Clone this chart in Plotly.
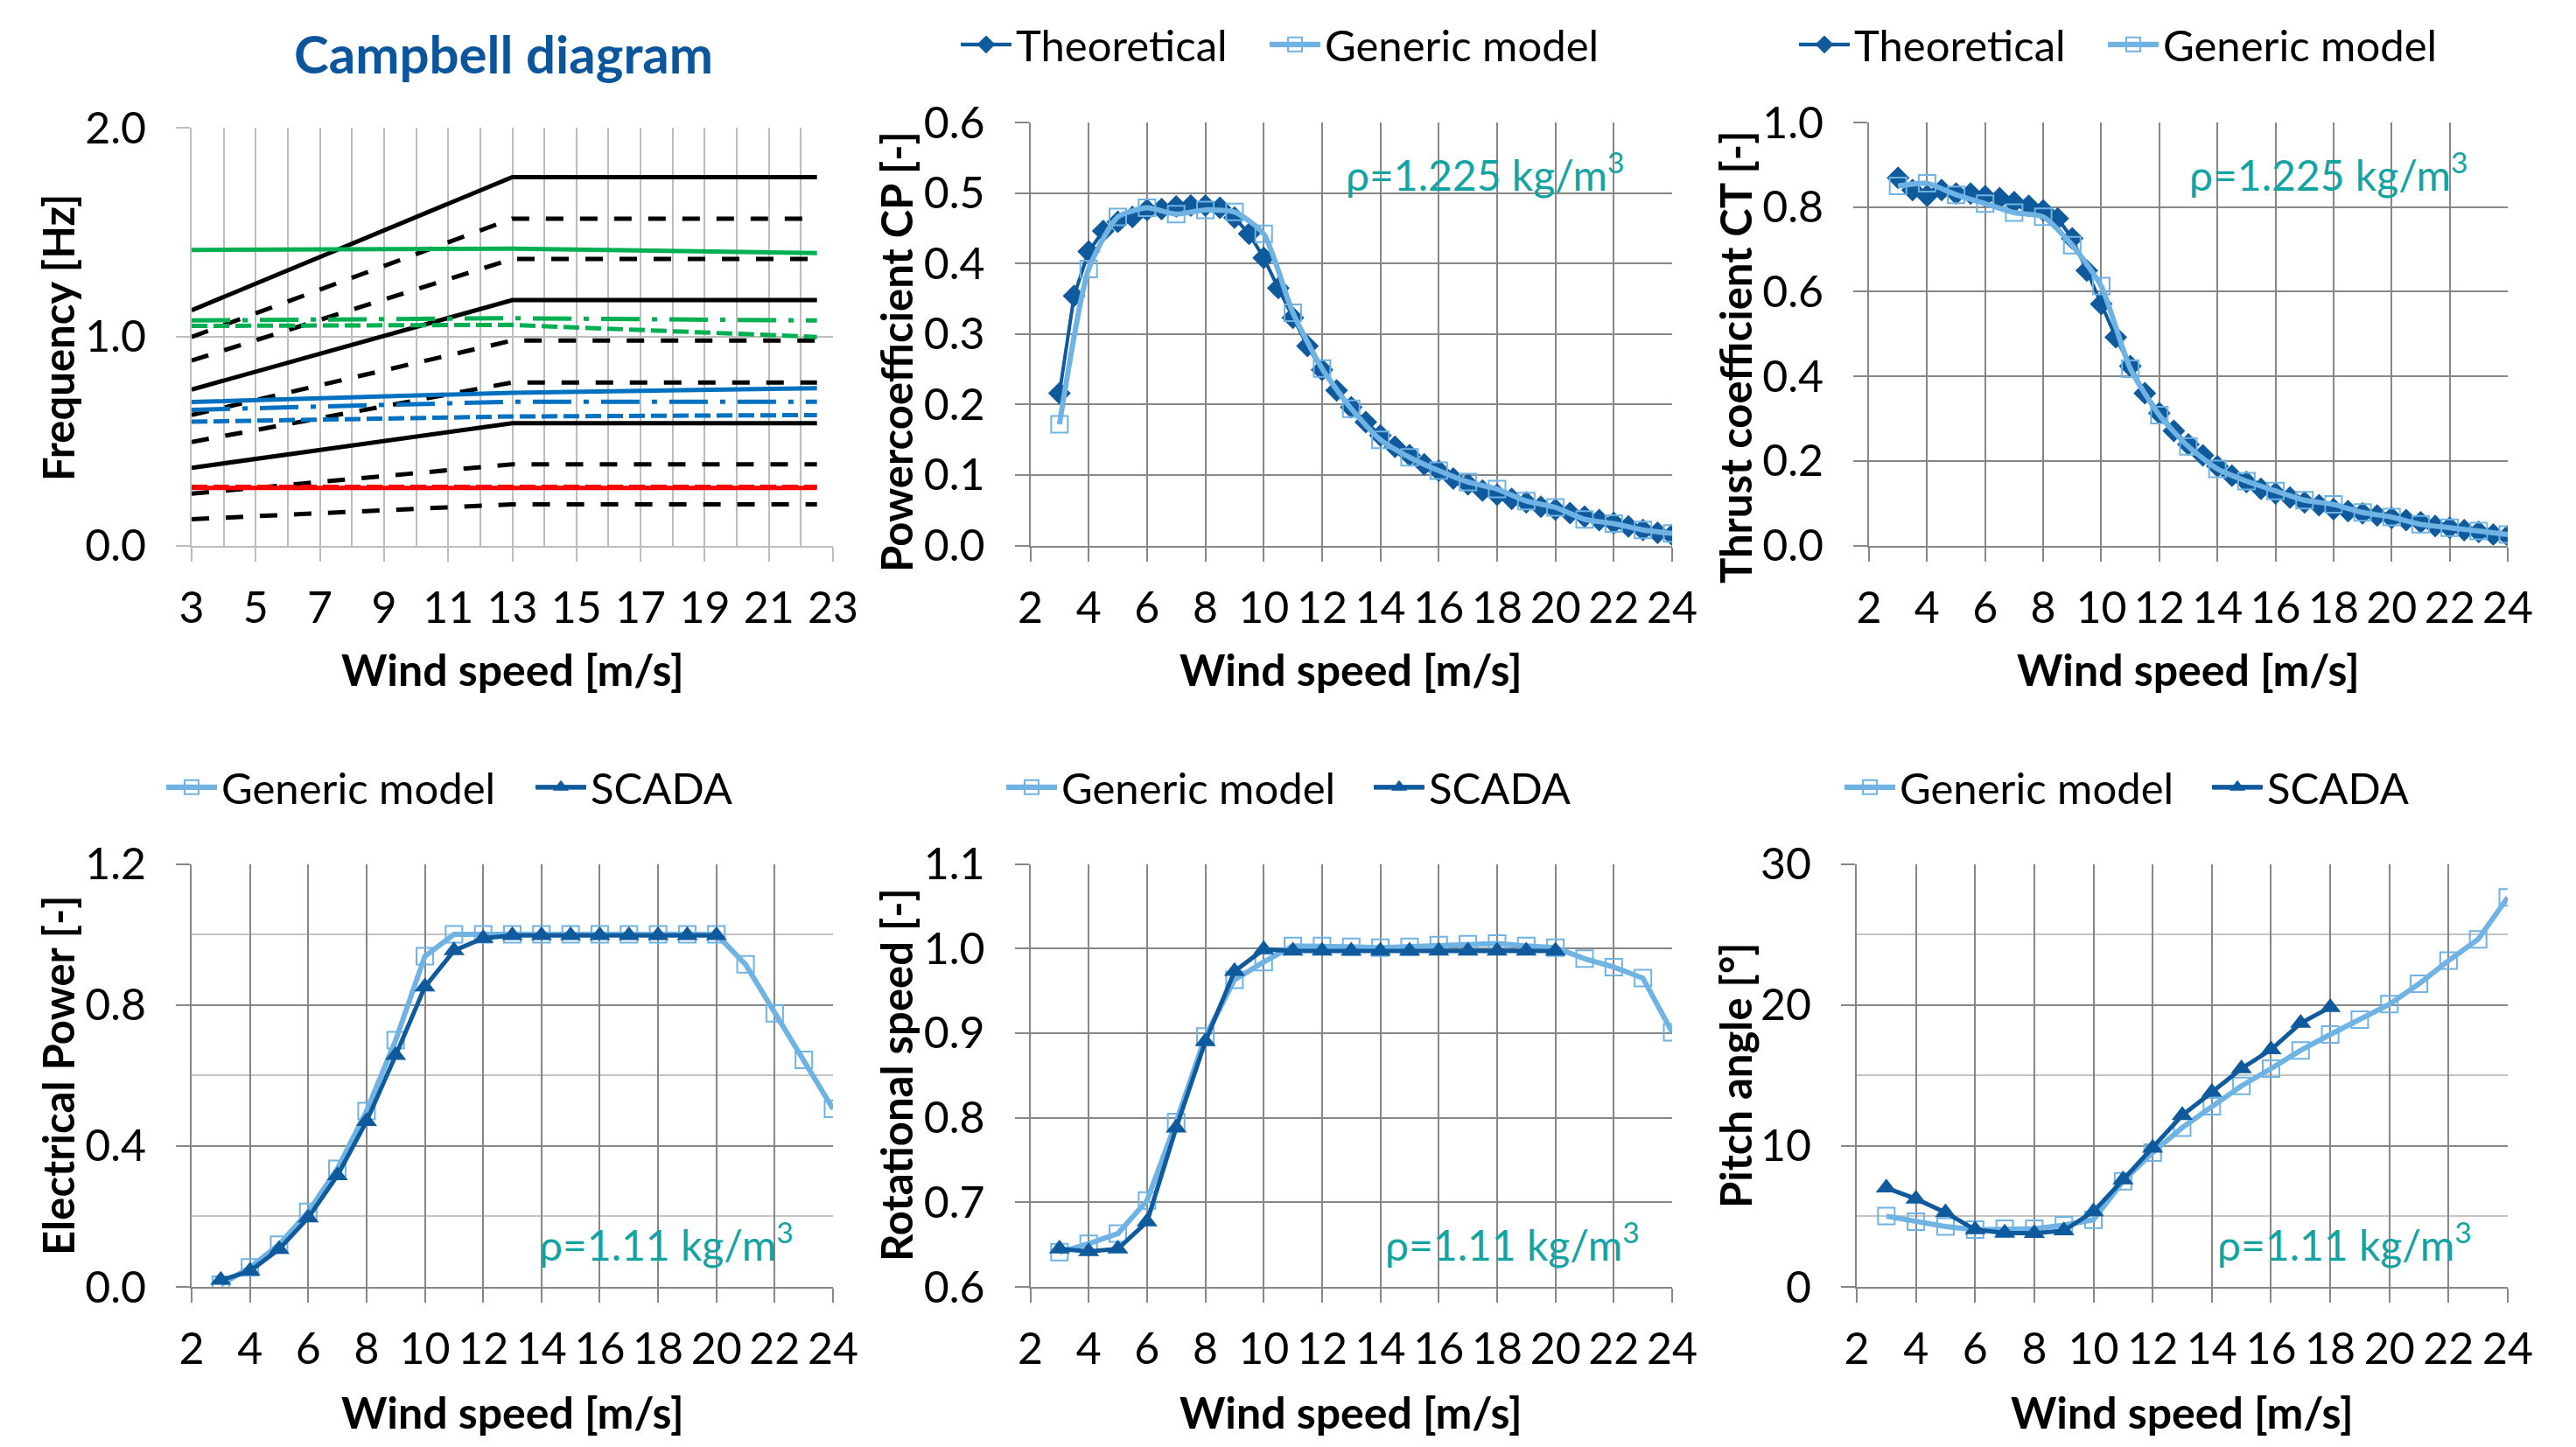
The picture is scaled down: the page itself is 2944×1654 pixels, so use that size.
import plotly.graph_objects as go

W, H = 2944, 1654

# ---------------- data ----------------
campbell_wind = [3, 13, 22.5]
harm_1p = [0.126, 0.197, 0.197]
harm_2p = [0.248, 0.389, 0.389]
harm_3p = [0.372, 0.586, 0.586]
harm_4p = [0.496, 0.781, 0.781]
harm_5p = [0.625, 0.982, 0.982]
harm_6p = [0.747, 1.176, 1.176]
harm_7p = [0.886, 1.373, 1.373]
harm_8p = [0.999, 1.566, 1.566]
harm_9p = [1.127, 1.765, 1.765]
green_solid = [1.416, 1.422, 1.401]
green_dashdot = [1.078, 1.089, 1.078]
green_dash = [1.052, 1.057, 0.999]
blue_solid = [0.687, 0.732, 0.753]
blue_dashdot = [0.650, 0.689, 0.689]
blue_dash = [0.593, 0.618, 0.625]
red_solid = [0.276, 0.276, 0.276]
red_dash = [0.281, 0.281, 0.281]

wind_half = [3, 3.5, 4, 4.5, 5, 5.5, 6, 6.5, 7, 7.5, 8, 8.5, 9, 9.5, 10, 10.5,
             11, 11.5, 12, 12.5, 13, 13.5, 14, 14.5, 15, 15.5, 16, 16.5, 17, 17.5,
             18, 18.5, 19, 19.5, 20, 20.5, 21, 21.5, 22, 22.5, 23, 23.5, 24]
cp_theoretical = [0.216, 0.354, 0.417, 0.446, 0.459, 0.466, 0.476, 0.477, 0.481, 0.482,
                  0.482, 0.479, 0.465, 0.442, 0.408, 0.365, 0.323, 0.283, 0.249, 0.220,
                  0.196, 0.175, 0.156, 0.140, 0.128, 0.115, 0.106, 0.095, 0.087, 0.078,
                  0.072, 0.066, 0.061, 0.055, 0.051, 0.046, 0.041, 0.036, 0.032, 0.027,
                  0.022, 0.018, 0.015]
ct_theoretical = [0.869, 0.840, 0.827, 0.840, 0.832, 0.832, 0.826, 0.821, 0.812, 0.803,
                  0.792, 0.773, 0.726, 0.650, 0.571, 0.492, 0.424, 0.360, 0.313, 0.271,
                  0.239, 0.213, 0.187, 0.165, 0.150, 0.134, 0.123, 0.113, 0.102, 0.095,
                  0.086, 0.081, 0.076, 0.071, 0.065, 0.060, 0.055, 0.046, 0.042, 0.036,
                  0.032, 0.026, 0.023]

wind_generic = [3, 4, 5, 6, 7, 8, 9, 10, 11, 12, 13, 14, 15, 16, 17, 18, 19, 20, 21, 22, 23, 24]
cp_generic = [0.172, 0.392, 0.466, 0.479, 0.470, 0.476, 0.473, 0.442, 0.330, 0.251, 0.194,
              0.150, 0.125, 0.106, 0.090, 0.080, 0.063, 0.054, 0.037, 0.031, 0.022, 0.017]
ct_generic = [0.850, 0.856, 0.829, 0.808, 0.787, 0.777, 0.710, 0.613, 0.418, 0.308, 0.234,
              0.181, 0.152, 0.129, 0.107, 0.097, 0.078, 0.067, 0.050, 0.042, 0.034, 0.026]
power_generic = [0.006, 0.055, 0.120, 0.213, 0.335, 0.499, 0.700, 0.938, 1.000, 1.000, 1.000,
                 1.000, 1.000, 1.000, 1.000, 1.000, 1.000, 1.000, 0.915, 0.776, 0.644, 0.505]
rotspeed_generic = [0.641, 0.651, 0.663, 0.702, 0.795, 0.896, 0.963, 0.984, 1.003, 1.003, 1.002,
                    1.001, 1.002, 1.004, 1.005, 1.006, 1.003, 1.001, 0.988, 0.978, 0.965, 0.901]
pitch_generic = [5.02, 4.63, 4.28, 4.06, 4.12, 4.12, 4.38, 4.76, 7.50, 9.53, 11.30,
                 12.81, 14.26, 15.48, 16.77, 17.90, 18.96, 20.05, 21.50, 23.14, 24.65, 27.62]

wind_scada = [3, 4, 5, 6, 7, 8, 9, 10, 11, 12, 13, 14, 15, 16, 17, 18, 19, 20]
power_scada = [0.019, 0.045, 0.107, 0.196, 0.316, 0.470, 0.657, 0.851, 0.954, 0.989,
               0.997, 0.997, 0.997, 0.997, 0.997, 0.997, 0.997, 0.997]
rotspeed_scada = [0.645, 0.642, 0.645, 0.677, 0.788, 0.890, 0.973, 0.999, 0.997, 0.997,
                  0.997, 0.997, 0.997, 0.997, 0.997, 0.997, 0.997, 0.997]
wind_scada_pitch = [3, 4, 5, 6, 7, 8, 9, 10, 11, 12, 13, 14, 15, 16, 17, 18]
pitch_scada = [7.02, 6.24, 5.28, 4.06, 3.83, 3.80, 3.99, 5.34, 7.60, 9.85, 12.17,
               13.81, 15.48, 16.83, 18.70, 19.83]

# ---------------- style ----------------
FONT = "Lato"
DARK = "#0E5A9C"
LIGHT = "#6FB3E4"
TEAL = "#14A3A3"
TITLE_BLUE = "#0B559C"
GRID = "#878787"
GRID_LIGHT = "#C4C4C4"
CAMP_GRID = "#BDBDBD"
BLACK = "#000000"
GREEN = "#00B050"
CBLUE = "#0070C0"
RED = "#FF0000"
TICK_FS = 50
TITLE_FS = 50
LEG_FS = 49
RHO_FS = 48
DIAMOND_SIZE = 20
SQUARE_SIZE = 19
TRI_SIZE = 21
ITEM_W = 58                    # legend key width
KEY_HALF = (ITEM_W + 10) / 2   # marker centre offset inside a legend entry


def fx(px):
    return px / W


def fy(py):
    return 1 - py / H


fig = go.Figure()

# ---------------- Campbell traces ----------------
DASH = "20px,19px"
DASHDOT = "44px,14px,6px,14px"
SDASH = "18px,7px"
camp_series = [
    (harm_9p, BLACK, "solid"), (harm_8p, BLACK, DASH), (harm_7p, BLACK, DASH),
    (harm_6p, BLACK, "solid"), (harm_5p, BLACK, DASH), (harm_4p, BLACK, DASH),
    (harm_3p, BLACK, "solid"), (harm_2p, BLACK, DASH), (harm_1p, BLACK, DASH),
    (green_solid, GREEN, "solid"), (green_dashdot, GREEN, DASHDOT), (green_dash, GREEN, SDASH),
    (blue_solid, CBLUE, "solid"), (blue_dashdot, CBLUE, DASHDOT), (blue_dash, CBLUE, SDASH),
    (red_solid, RED, "solid"), (red_dash, RED, SDASH),
]
for yv, col, dash in camp_series:
    fig.add_trace(go.Scatter(x=campbell_wind, y=yv, mode="lines",
                             line=dict(color=col, width=5, dash=dash),
                             showlegend=False, hoverinfo="skip", xaxis="x", yaxis="y"))

# ---------------- CP ----------------
fig.add_trace(go.Scatter(x=wind_half, y=cp_theoretical, name="Theoretical", mode="lines+markers",
                         line=dict(color=DARK, width=4),
                         marker=dict(symbol="diamond", size=DIAMOND_SIZE, color=DARK),
                         xaxis="x2", yaxis="y2", legend="legend"))
fig.add_trace(go.Scatter(x=wind_generic, y=cp_generic, name="Generic model", mode="lines+markers",
                         line=dict(color=LIGHT, width=6, shape="spline", smoothing=0.6),
                         marker=dict(symbol="square-open", size=SQUARE_SIZE, color=LIGHT, line=dict(width=2)),
                         xaxis="x2", yaxis="y2", legend="legend2"))

# ---------------- CT ----------------
fig.add_trace(go.Scatter(x=wind_half, y=ct_theoretical, name="Theoretical", mode="lines+markers",
                         line=dict(color=DARK, width=4),
                         marker=dict(symbol="diamond", size=DIAMOND_SIZE, color=DARK),
                         xaxis="x3", yaxis="y3", legend="legend3"))
fig.add_trace(go.Scatter(x=wind_generic, y=ct_generic, name="Generic model", mode="lines+markers",
                         line=dict(color=LIGHT, width=6, shape="spline", smoothing=0.6),
                         marker=dict(symbol="square-open", size=SQUARE_SIZE, color=LIGHT, line=dict(width=2)),
                         xaxis="x3", yaxis="y3", legend="legend4"))

# ---------------- bottom row ----------------
bottom = [
    ("x4", "y4", "legend5", "legend6", power_generic, wind_scada, power_scada),
    ("x5", "y5", "legend7", "legend8", rotspeed_generic, wind_scada, rotspeed_scada),
    ("x6", "y6", "legend9", "legend10", pitch_generic, wind_scada_pitch, pitch_scada),
]
for xa, ya, lg1, lg2, gen, wsc, sc in bottom:
    fig.add_trace(go.Scatter(x=wind_generic, y=gen, name="Generic model", mode="lines+markers",
                             line=dict(color=LIGHT, width=6),
                             marker=dict(symbol="square-open", size=SQUARE_SIZE, color=LIGHT, line=dict(width=2)),
                             xaxis=xa, yaxis=ya, legend=lg1))
    fig.add_trace(go.Scatter(x=wsc, y=sc, name="SCADA", mode="lines+markers",
                             line=dict(color=DARK, width=5),
                             marker=dict(symbol="triangle-up", size=TRI_SIZE, color=DARK),
                             xaxis=xa, yaxis=ya, legend=lg2))

# ---------------- axes ----------------
tickfont = dict(family=FONT, size=TICK_FS, color="black")


def xcfg(domain, anchor, rng, dtick, tick0, gridcolor, minor=None):
    d = dict(domain=domain, anchor=anchor, range=rng, dtick=dtick, tick0=tick0,
             showgrid=True, gridcolor=gridcolor, gridwidth=2, zeroline=False,
             showline=True, linecolor=gridcolor, linewidth=2, automargin=False,
             ticks="outside", ticklen=16, tickwidth=2, tickcolor=gridcolor,
             tickfont=tickfont, ticklabelstandoff=10)
    if minor:
        d["minor"] = minor
    return d


def ycfg(domain, anchor, rng, dtick, fmt, gridcolor, minor=None):
    d = dict(domain=domain, anchor=anchor, range=rng, dtick=dtick, tick0=rng[0],
             tickformat=fmt, showgrid=True, gridcolor=gridcolor, gridwidth=2, zeroline=False,
             showline=True, linecolor=gridcolor, linewidth=2, automargin=False,
             ticks="outside", ticklen=16, tickwidth=2, tickcolor=gridcolor,
             tickfont=tickfont, ticklabelstandoff=24)
    if minor:
        d["minor"] = minor
    return d


top_y = [fy(623.5), fy(140)]
bot_y = [fy(1471), fy(987.5)]
col1 = [fx(219), fx(952)]
col2 = [fx(1177.5), fx(1911)]
col3 = [fx(2136), fx(2866)]
col3b = [fx(2122), fx(2866)]

fig.update_layout(
    xaxis=xcfg(col1, "y", [3, 23], 2, 3, CAMP_GRID,
               minor=dict(dtick=1, tick0=3, showgrid=True, gridcolor=CAMP_GRID, gridwidth=2)),
    yaxis=ycfg([fy(623.5), fy(146.4)], "x", [0, 2], 1, ".1f", CAMP_GRID),
    xaxis2=xcfg(col2, "y2", [2, 24], 2, 2, GRID),
    yaxis2=ycfg(top_y, "x2", [0, 0.6], 0.1, ".1f", GRID),
    xaxis3=xcfg(col3, "y3", [2, 24], 2, 2, GRID),
    yaxis3=ycfg(top_y, "x3", [0, 1.0], 0.2, ".1f", GRID),
    xaxis4=xcfg(col1, "y4", [2, 24], 2, 2, GRID),
    yaxis4=ycfg(bot_y, "x4", [0, 1.2], 0.4, ".1f", GRID,
                minor=dict(dtick=0.2, showgrid=True, gridcolor=GRID_LIGHT, gridwidth=2)),
    xaxis5=xcfg(col2, "y5", [2, 24], 2, 2, GRID),
    yaxis5=ycfg(bot_y, "x5", [0.6, 1.1], 0.1, ".1f", GRID),
    xaxis6=xcfg(col3b, "y6", [2, 24], 2, 2, GRID),
    yaxis6=ycfg(bot_y, "x6", [0, 30], 10, "d", GRID,
                minor=dict(dtick=5, showgrid=True, gridcolor=GRID_LIGHT, gridwidth=2)),
)

# ---------------- legends (one entry each) ----------------
# (legend name, marker centre px, row centre px, key colour, key line width)
legend_specs = [
    ("legend", 1127, 51, DARK, 4), ("legend2", 1480, 51, LIGHT, 6),
    ("legend3", 2085, 51, DARK, 4), ("legend4", 2438, 51, LIGHT, 6),
    ("legend5", 219, 900, LIGHT, 6), ("legend6", 641, 900, DARK, 5),
    ("legend7", 1179, 900, LIGHT, 6), ("legend8", 1599, 900, DARK, 5),
    ("legend9", 2137, 900, LIGHT, 6), ("legend10", 2557, 900, DARK, 5),
]
shapes = []
legend_layout = {}
for name, mx, cy, col, lw in legend_specs:
    legend_layout[name] = dict(orientation="h", x=fx(mx - KEY_HALF), xanchor="left",
                               y=fy(cy), yanchor="middle",
                               font=dict(family=FONT, size=LEG_FS, color="black"),
                               bgcolor="rgba(0,0,0,0)", itemwidth=ITEM_W,
                               itemclick=False, itemdoubleclick=False)
    # legend key line as long as in the reference
    shapes.append(dict(type="line", xref="paper", yref="paper",
                       x0=fx(mx - 28), x1=fx(mx + 28), y0=fy(cy), y1=fy(cy),
                       line=dict(color=col, width=lw), layer="above"))
fig.update_layout(**legend_layout)

# ---------------- annotations ----------------
ann = []
ann.append(dict(text="<b>Campbell diagram</b>", x=fx(575), y=fy(61), xref="paper", yref="paper",
                showarrow=False, xanchor="center", yanchor="middle",
                font=dict(family=FONT, size=60, color=TITLE_BLUE)))

ytitles = [("Frequency [Hz]", 66, 386), ("Powercoefficient CP [-]", 1024, 402),
           ("Thrust coefficient CT [-]", 1983, 408), ("Electrical Power [-]", 66, 1229),
           ("Rotational speed [-]", 1024, 1229), ("Pitch angle [°]", 1983, 1229)]
for t, px, py in ytitles:
    ann.append(dict(text="<b>" + t + "</b>", x=fx(px), y=fy(py), xref="paper", yref="paper",
                    showarrow=False, textangle=-90, xanchor="center", yanchor="middle",
                    font=dict(family=FONT, size=TITLE_FS - 1, color="black")))

xtitles = [(585.5, 765), (1544, 765), (2501, 765), (585.5, 1614), (1544, 1614), (2494, 1614)]
for px, py in xtitles:
    ann.append(dict(text="<b>Wind speed [m/s]</b>", x=fx(px), y=fy(py), xref="paper", yref="paper",
                    showarrow=False, xanchor="center", yanchor="middle",
                    font=dict(family=FONT, size=TITLE_FS, color="black")))

rho_texts = [("ρ=1.225 kg/m<sup>3</sup>", 1697, 196, (1511, 146, 1903, 241)),
             ("ρ=1.225 kg/m<sup>3</sup>", 2661, 196, (2476, 143, 2855, 240)),
             ("ρ=1.11 kg/m<sup>3</sup>", 761, 1419, (587, 1374, 950, 1466)),
             ("ρ=1.11 kg/m<sup>3</sup>", 1728, 1419, (1555, 1374, 1902, 1466)),
             ("ρ=1.11 kg/m<sup>3</sup>", 2679, 1419, (2506, 1374, 2863, 1466))]
for t, px, py, box in rho_texts:
    ann.append(dict(text=t, x=fx(px), y=fy(py), xref="paper", yref="paper",
                    showarrow=False, xanchor="center", yanchor="middle",
                    font=dict(family=FONT, size=RHO_FS, color=TEAL)))
    shapes.append(dict(type="rect", xref="paper", yref="paper",
                       x0=fx(box[0]), y0=fy(box[3]), x1=fx(box[2]), y1=fy(box[1]),
                       fillcolor="white", line=dict(width=0), layer="between"))

fig.update_layout(
    annotations=ann,
    shapes=shapes,
    width=W, height=H,
    margin=dict(l=0, r=0, t=0, b=0, pad=0, autoexpand=False),
    paper_bgcolor="white", plot_bgcolor="white",
    font=dict(family=FONT, size=TICK_FS, color="black"),
    hovermode=False,
)

fig.write_html("out.html", config={"displayModeBar": False},
               post_script="document.body.style.margin='0';document.body.style.overflow='hidden';")
